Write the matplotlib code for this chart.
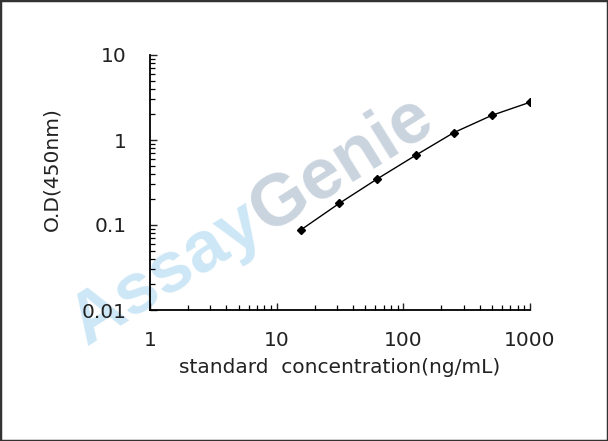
import numpy as np
import matplotlib
matplotlib.use("Agg")
import matplotlib.pyplot as plt
from matplotlib.ticker import LogLocator, FixedLocator, FixedFormatter, NullFormatter
from matplotlib.patches import Rectangle

# standard curve values
conc = [15.6, 31.25, 62.5, 125, 250, 500, 1000]
od = [0.088, 0.18, 0.35, 0.66, 1.22, 1.95, 2.78]

xticks = [1, 10, 100, 1000]
xtick_labels = ["1", "10", "100", "1000"]
yticks = [0.01, 0.1, 1, 10]
ytick_labels = ["0.01", "0.1", "1", "10"]

plt.rcParams['font.family'] = ['DejaVu Sans']

W, H = 608, 441
fig = plt.figure(figsize=(W/100, H/100), dpi=100)
ax = fig.add_axes([150/W, 1-310/H, 380/W, 255/H])
ax.patch.set_alpha(0)

# watermark behind everything, "Assay" then "Genie" along one baseline
ang = 32
wm_size = 52
x0, y0 = 86, 346  # start of baseline, pixels from top-left
fig.text(x0/W, 1-y0/H, "Assay", rotation=ang, rotation_mode='anchor',
         ha='left', va='baseline', fontsize=wm_size, fontweight='bold',
         family='Liberation Sans', color='#cde7f6', zorder=-1)
r = fig.canvas.get_renderer()
probe = fig.text(0, 0, "Assay", fontsize=wm_size, fontweight='bold',
                 family='Liberation Sans')
w1 = probe.get_window_extent(r).width
probe.remove()
x1 = x0 + w1*np.cos(np.radians(ang))
y1 = y0 - w1*np.sin(np.radians(ang))
fig.text(x1/W, 1-y1/H, "Genie", rotation=ang, rotation_mode='anchor',
         ha='left', va='baseline', fontsize=wm_size, fontweight='bold',
         family='Liberation Sans', color='#cad4de', zorder=-1)

ax.plot(conc, od, color='black', lw=1.0, marker='D', ms=4, zorder=3)

ax.set_xscale('log')
ax.set_yscale('log')
ax.set_xlim(1, 1000)
ax.set_ylim(0.01, 10)

ax.xaxis.set_major_locator(FixedLocator(xticks))
ax.xaxis.set_major_formatter(FixedFormatter(xtick_labels))
ax.yaxis.set_major_locator(FixedLocator(yticks))
ax.yaxis.set_major_formatter(FixedFormatter(ytick_labels))
ax.xaxis.set_minor_locator(LogLocator(base=10, subs=range(2, 10)))
ax.yaxis.set_minor_locator(LogLocator(base=10, subs=range(2, 10)))
ax.xaxis.set_minor_formatter(NullFormatter())
ax.yaxis.set_minor_formatter(NullFormatter())

for s in ['top', 'right']:
    ax.spines[s].set_visible(False)
for s in ['left', 'bottom']:
    ax.spines[s].set_linewidth(1.3)

ax.tick_params(which='major', direction='in', length=5, width=1.0,
               labelsize=14.5, colors='#222222')
ax.tick_params(which='minor', direction='in', length=3.5, width=0.9)
ax.tick_params(axis='x', which='major', pad=15)
ax.tick_params(axis='y', which='major', pad=17)

ax.set_xlabel("standard  concentration(ng/mL)", fontsize=14.5, color='#222222')
ax.set_ylabel("O.D(450nm)", fontsize=14.5, color='#222222')
ax.xaxis.set_label_coords(0.5, -0.19)
ax.yaxis.set_label_coords(-0.232, 0.553)

# thin dark frame around the image
fig.patches.append(Rectangle((0, 0), 1, 1, transform=fig.transFigure,
                             fill=False, edgecolor='#333333', lw=2.5))

fig.savefig("out.png", dpi=100)
